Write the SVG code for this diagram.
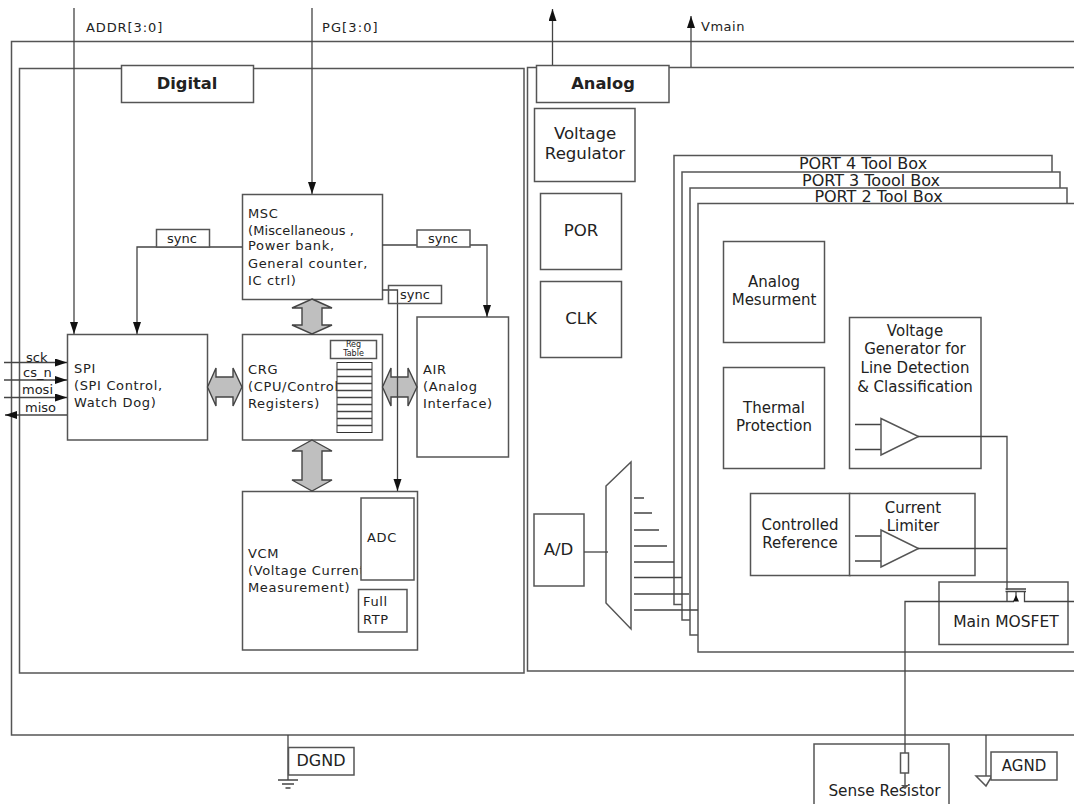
<svg xmlns="http://www.w3.org/2000/svg" width="1074" height="804" viewBox="0 0 1074 804">
<style>
text{font-family:"DejaVu Sans",Verdana,sans-serif;fill:#222;font-size:13px}
.b{fill:#fff;stroke:#555;stroke-width:1.5}
.l{fill:none;stroke:#444;stroke-width:1.3}
.t{fill:#fff;stroke:#333;stroke-width:1}
.d{fill:#bfbfbf;stroke:#444;stroke-width:1.4}
.m{text-anchor:middle}
.f{font-size:16.600px}
.h{font-size:16.300px;font-weight:bold}
.s{font-size:15px}
.p{font-size:16px}
#msc text,#spi text,#crg text,#air text,#vcm text{letter-spacing:.65px}
</style>
<defs>
<marker id="a" markerUnits="userSpaceOnUse" markerWidth="13" markerHeight="9" refX="12" refY="4" orient="auto"><path d="M0 0L12 4L0 8Z" fill="#111"/></marker>
</defs>
<rect fill="#fff" width="1074" height="804"/>
<g id="chip"><path class="b" d="M1074 41.500H11.500V735H1074"/></g>
<g id="digital">
<rect class="b" x="19.500" y="68.500" width="504.500" height="604.500"/>
<rect class="b" x="121.500" y="65.500" width="132" height="37"/>
<text class="h m" x="187" y="89">Digital</text>
</g>
<g id="analog">
<path class="b" d="M1074 67.500H527.500V671H1074"/>
<rect class="b" x="536.500" y="65.500" width="132.500" height="37"/>
<text class="h m" x="603" y="89">Analog</text>
</g>
<g id="voltage-regulator"><rect class="b" x="534.500" y="108.500" width="100.500" height="73"/>
<text class="f m" x="585" y="139">Voltage</text><text class="f m" x="585" y="159">Regulator</text></g>
<g id="por"><rect class="b" x="540.500" y="193.500" width="81" height="76"/><text class="f m" x="581" y="236">POR</text></g>
<g id="clk"><rect class="b" x="540.500" y="281.500" width="81" height="76"/><text class="f m" x="581" y="324">CLK</text></g>
<g id="port4"><rect class="b" x="674" y="155.500" width="378" height="449"/><text class="p m" x="863" y="169">PORT 4 Tool Box</text></g>
<g id="port3"><rect class="b" x="682" y="172" width="378" height="448"/><text class="p m" x="871" y="186">PORT 3 Toool Box</text></g>
<g id="port2"><rect class="b" x="690" y="188" width="377" height="447"/><text class="p m" x="878.500" y="202">PORT 2 Tool Box</text></g>
<g id="port1"><path class="b" d="M1074 203.500H698V652H1074"/></g>
<g id="analog-measurement"><rect class="b" x="723.500" y="241.500" width="101" height="101"/><text class="s m" x="774" y="287">Analog</text><text class="s m" x="774" y="305">Mesurment</text></g>
<g id="thermal"><rect class="b" x="723.500" y="367.500" width="101" height="101"/><text class="s m" x="774" y="413">Thermal</text><text class="s m" x="774" y="431">Protection</text></g>
<g id="voltage-generator"><rect class="b" x="849.500" y="317.500" width="131.500" height="151"/>
<text class="s m" x="915" y="336">Voltage</text><text class="s m" x="915" y="354">Generator for</text><text class="s m" x="915" y="373">Line Detection</text><text class="s m" x="915" y="392">&amp; Classification</text>
<path class="l" d="M855 424.500H881M855 449.500H881"/><path class="b" d="M881 418.500V455L918.500 436.500Z"/></g>
<g id="controlled-reference"><rect class="b" x="750.500" y="493.500" width="99.500" height="82"/><text class="s m" x="800" y="530">Controlled</text><text class="s m" x="800" y="548">Reference</text></g>
<g id="current-limiter"><rect class="b" x="849.500" y="493.500" width="125.500" height="82"/><text class="s m" x="913" y="513">Current</text><text class="s m" x="913" y="531">Limiter</text>
<path class="l" d="M855 536H881M855 561H881"/><path class="b" d="M881 530V567L918.500 548.500Z"/></g>
<g id="main-mosfet"><rect class="b" x="939" y="582" width="129" height="62.500"/><text class="m" style="font-size:15.500px" x="1006" y="627">Main MOSFET</text></g>
<g id="ad"><rect class="b" x="534" y="514" width="50" height="72"/><text class="f m" x="558.500" y="555">A/D</text></g>
<g id="mux"><path class="b" d="M606 486L631 462V629L606 603Z"/></g>
<g id="msc"><rect class="b" x="242.500" y="194.500" width="140" height="105"/>
<text x="248" y="218">MSC</text><text x="248" y="235" style="letter-spacing:.1px">(Miscellaneous ,</text><text x="248" y="250">Power bank,</text><text x="248" y="268">General counter,</text><text x="248" y="285">IC ctrl)</text></g>
<g id="spi"><rect class="b" x="67.500" y="334.500" width="140" height="105.500"/>
<text x="74" y="373">SPI</text><text x="74" y="390">(SPI Control,</text><text x="74" y="407">Watch Dog)</text></g>
<g id="crg"><rect class="b" x="242.500" y="334.500" width="140" height="105.500"/>
<text x="248" y="374">CRG</text><text x="248" y="391">(CPU/Control</text><text x="248" y="408">Registers)</text>
<rect class="t" x="337" y="362.500" width="35" height="70"/>
<path class="l" stroke="#222" d="M337 369.500H372M337 376.500H372M337 383.500H372M337 390.500H372M337 397.500H372M337 404.500H372M337 411.500H372M337 418.500H372M337 425.500H372"/>
<rect class="b" x="330.500" y="340.500" width="46" height="18"/><text class="m" style="font-size:8px;letter-spacing:0" x="353.500" y="347">Reg</text><text class="m" style="font-size:8px;letter-spacing:0" x="353.500" y="356">Table</text></g>
<g id="air"><rect class="b" x="417" y="317" width="91.500" height="140"/><text x="423" y="374">AIR</text><text x="423" y="391">(Analog</text><text x="423" y="408">Interface)</text></g>
<g id="vcm"><rect class="b" x="242.500" y="491.500" width="175" height="158.500"/>
<text x="248" y="558">VCM</text><text x="248" y="575">(Voltage Current</text><text x="248" y="592">Measurement)</text>
<rect class="b" x="361" y="498" width="53" height="82"/><text x="367" y="542">ADC</text>
<rect class="b" x="358.500" y="589.500" width="48.500" height="42.500"/><text x="363" y="606">Full</text><text x="363" y="624">RTP</text></g>
<g id="sense-resistor"><path class="b" d="M814 804V744H949V804"/><text class="m" style="font-size:15.300px" x="884.500" y="796">Sense Resistor</text></g>
<g id="connectors">
<path class="l" marker-end="url(#a)" d="M74 8V334"/><path class="l" marker-end="url(#a)" d="M312 8V194"/>
<path class="l" marker-end="url(#a)" d="M552.500 65V9"/><path class="l" marker-end="url(#a)" d="M691 67V16"/>
<path class="l" marker-end="url(#a)" d="M242 247H137V334"/>
<path class="l" marker-end="url(#a)" d="M382 245H487V317"/>
<path class="l" marker-end="url(#a)" d="M4 362.500H67"/><path class="l" marker-end="url(#a)" d="M4 380H67"/><path class="l" marker-end="url(#a)" d="M4 397.500H67"/><path class="l" marker-end="url(#a)" d="M67 415H5"/>
<path class="d" d="M312 299L332 308H322V325H332L312 334L292 325H302V308H292Z"/>
<path class="d" d="M312 440L332 451H322V480H332L312 491L292 480H302V451H292Z"/>
<path class="d" d="M207.500 387L216 368V377H233V368L242 387L233 406V397H216V406Z"/>
<path class="d" d="M382.500 387L391 368V377H408V368L417 387L408 406V397H391V406Z"/>
<path class="l" marker-end="url(#a)" d="M382 290H397.500V491"/>
<path class="l" d="M584 552H608"/>
<path class="l" d="M634 498H644M634 513H652M634 530H659M634 546H667M634 562H674M634 577.500H682M634 594H689M634 610H698"/>
<path class="l" d="M918 436.500H1007V590M918 548.500H1007"/>
<path class="l" d="M1005.500 589H1026M1005.500 591.500H1026M1007 591.500V601.500M1024.500 591.500V601.500H1074M1016 591.500V598M1014 601.500H905V753M905 773V786"/>
<path fill="#111" d="M1016 595L1019 601.500H1013Z"/>
<path class="l" d="M986 735V776M288 735V780M278 780H298M282 784H294M285.500 788H290.500"/>
<path class="b" d="M976 776H992L986 786Z"/>
<path fill="#555" d="M901 785H909L905 789Z"/>
<rect class="b" x="900.500" y="753" width="8" height="20"/>
</g>
<g id="labels">
<rect class="b" x="156.500" y="229.500" width="53" height="17.500"/><text x="167" y="243">sync</text>
<rect class="b" x="417" y="230" width="53" height="17"/><text x="428" y="243">sync</text>
<rect x="388.500" y="285.500" width="53" height="18" fill="none" stroke="#555" stroke-width="1.5"/><text x="400" y="299">sync</text>
<text x="26" y="362">sck</text><text x="23" y="377">cs_n</text><text x="22" y="394">mosi</text><text x="25" y="412">miso</text>
<text x="86" y="32" style="letter-spacing:.9px">ADDR[3:0]</text><text x="322" y="32" style="letter-spacing:1.1px">PG[3:0]</text><text x="701" y="31" style="letter-spacing:.5px">Vmain</text>
</g>
<g id="dgnd"><rect class="b" x="288.500" y="747.500" width="65.500" height="27.500"/><text class="p m" x="321" y="766">DGND</text></g>
<g id="agnd"><rect class="b" x="991" y="752" width="66" height="28"/><text class="s m" x="1024" y="771">AGND</text></g>
</svg>
